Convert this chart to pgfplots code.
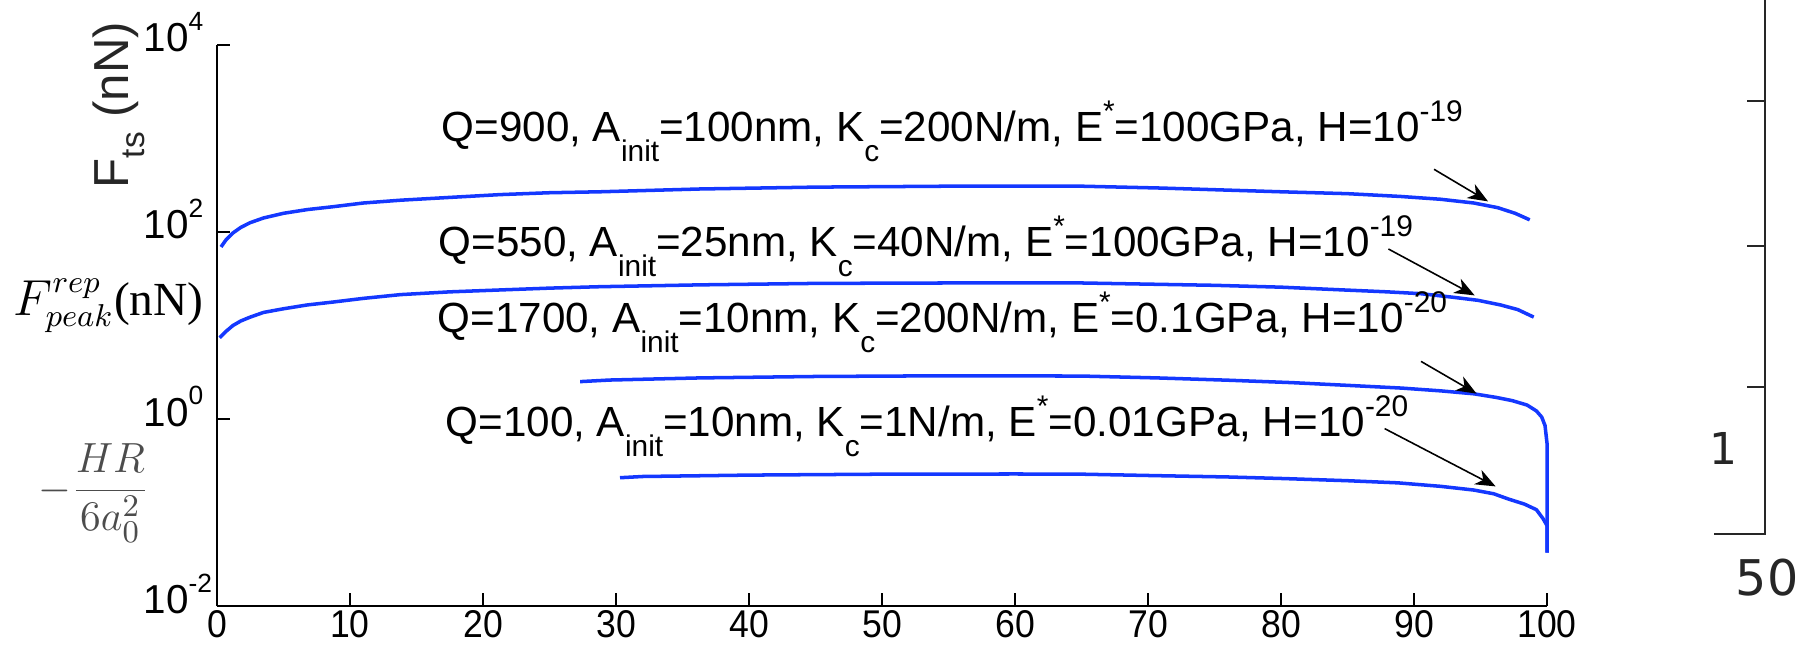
\documentclass[border=0pt]{standalone}
\usepackage{fontspec}
\setmainfont{Liberation Sans}
\newfontfamily\narrowfont[FakeStretch=0.92]{Liberation Sans}
\newfontfamily\seriffont{Liberation Serif}
\newfontfamily\dejavu{DejaVu Sans}
\usepackage{pgfplots}
\pgfplotsset{compat=1.18}
\usetikzlibrary{arrows.meta}
\definecolor{curveblue}{rgb}{0.08,0.22,1}
\newcommand{\ysup}[1]{\raisebox{2.1mm}{\fontsize{7.5}{8}\selectfont #1}}
\newcommand{\asub}[1]{\raisebox{-2mm}{\fontsize{8.5}{9}\selectfont #1}}
\newcommand{\asup}[1]{\raisebox{2mm}{\fontsize{8.5}{9}\selectfont #1}}
\newcommand{\ann}[5]{Q=#1, A\asub{init}=#2, K\asub{c}=#3, E\asup{*}=#4, H=10\asup{#5}}
\begin{document}
\begin{tikzpicture}
\useasboundingbox (-21.7mm,-3.8mm) rectangle (159.1mm,60.6mm);
\begin{axis}[
  at={(0,0)}, anchor=south west,
  scale only axis, width=133mm, height=56.1mm,
  xmin=0, xmax=100, ymode=log, ymin=1e-2, ymax=1e4,
  axis lines=left, axis line style={-, line width=0.5pt},
  tick align=inside, major tick length=1.3mm,
  tick style={black, line width=0.5pt},
  xtick={0,10,...,100},
  xticklabels={0,10,20,30,40,50,60,70,80,90,100},
  ytick={1e-2,1,1e2,1e4},
  yticklabels={10\ysup{-2},10\ysup{0},10\ysup{2},10\ysup{4}},
  xminorticks=false, yminorticks=false,
  xticklabel style={font=\narrowfont\fontsize{11}{12}\selectfont, inner sep=0pt, anchor=north, yshift=-0.4mm},
  yticklabel style={font=\fontsize{11.5}{12}\selectfont, inner sep=0pt, anchor=base west, xshift=-7.4mm, yshift=-0.7mm},
  clip=false,
  cycle list={{curveblue, line width=1pt}},
]
% Q=900
\addplot[curveblue, line width=1pt] coordinates {(0.3,69.2)(0.7,83.2)(1.2,97.7)(1.8,112.2)(2.5,125.9)(3.5,141.3)(5,158.5)(6.8,173.8)(8.7,186.2)(11,204.2)(13.8,218.8)(17.5,234.4)(21.3,251.2)(25,263.0)(28.8,269.2)(36.3,288.4)(45,302.0)(55,309.0)(65,309.0)(71,295.1)(80,269.2)(85,257.0)(89,239.9)(92,223.9)(94.5,204.2)(96.3,182.0)(97.6,158.5)(98.7,134.9)};
% Q=550
\addplot[curveblue, line width=1pt] coordinates {(0.2,7.41)(0.7,8.71)(1.2,10.0)(1.8,11.2)(2.5,12.3)(3.5,13.8)(5,15.1)(6.8,16.6)(8.7,17.8)(11,19.5)(13.8,21.4)(17.5,22.9)(21.3,24.0)(25,25.1)(28.8,26.0)(36.3,27.2)(45,28.2)(55,28.5)(65,28.5)(75,26.9)(80,25.7)(84.7,24.0)(88,22.9)(90.5,21.9)(93,20.0)(94.8,18.6)(96.5,16.6)(97.8,14.8)(99,12.3)};
% Q=1700
\addplot[curveblue, line width=1pt] coordinates {(27.3,2.51)(29.5,2.61)(36.3,2.75)(45,2.85)(55,2.90)(65,2.88)(70.7,2.75)(76,2.60)(80.8,2.45)(85,2.29)(89.1,2.14)(92,2.00)(94.5,1.86)(96.2,1.70)(97.4,1.57)(98.5,1.41)(99.2,1.22)(99.6,1.05)(99.85,0.851)(100,0.550)(100,0.0372)};
% Q=100
\addplot[curveblue, line width=1pt] coordinates {(30.3,0.2355)(32,0.2427)(40,0.2512)(50,0.2570)(60,0.2582)(65,0.2570)(70.7,0.2477)(76,0.2399)(80.2,0.2307)(85,0.2188)(88.8,0.2075)(92,0.1905)(94.5,0.1738)(96,0.1585)(97.1,0.1393)(98.3,0.1230)(99.2,0.1072)(99.7,0.0861)(100,0.0724)(100,0.0372)};
\end{axis}
% annotations
\begin{scope}[every node/.style={anchor=base west, inner sep=0pt, font=\fontsize{12}{14}\selectfont}]
\node at (22.4mm,46.4mm) {\ann{900}{100nm}{200N/m}{100GPa}{-19}};
\node at (22.1mm,34.9mm) {\ann{550}{25nm}{40N/m}{100GPa}{-19}};
\node at (22.0mm,27.3mm) {\ann{1700}{10nm}{200N/m}{0.1GPa}{-20}};
\node at (22.8mm,16.95mm) {\ann{100}{10nm}{1N/m}{0.01GPa}{-20}};
\end{scope}
\begin{scope}[line width=0.45pt, -{Stealth[length=2mm,width=1.6mm,inset=0.6mm]}]
\draw (121.7mm,43.67mm) -- (127.1mm,40.46mm);
\draw (117.14mm,35.7mm) -- (125.76mm,31.06mm);
\draw (120.4mm,24.46mm) -- (125.95mm,21.24mm);
\draw (116.76mm,17.74mm) -- (127.86mm,11.96mm);
\end{scope}
% y-axis descriptions
\node[rotate=90, anchor=base west, inner sep=0pt, text=black!85, font=\fontsize{14}{16}\selectfont] at (-8.9mm,41.7mm) {F\raisebox{-1.6mm}{\fontsize{9.5}{10}\selectfont ts}\hspace{0.3em}(nN)};
\node[anchor=base west, inner sep=0pt, font=\seriffont\fontsize{13.5}{15}\selectfont] at (-20.4mm,29.0mm) {$F^{rep}_{peak}$(nN)};
\node[anchor=center, inner sep=0pt, text=black!70, font=\fontsize{12.5}{14}\selectfont] at (-12.3mm,11.3mm) {$\displaystyle -\frac{HR}{6a_0^2}$};
% right fragment
\begin{scope}[black!85, line width=0.8pt]
\draw (154.8mm,60.6mm) -- (154.8mm,7.2mm) -- (149.7mm,7.2mm);
\draw (153.0mm,50.5mm) -- (154.8mm,50.5mm);
\draw (153.0mm,36.0mm) -- (154.8mm,36.0mm);
\draw (153.0mm,21.9mm) -- (154.8mm,21.9mm);
\end{scope}
\node[font=\dejavu\fontsize{12.5}{13}\selectfont, text=black!85] at (150.6mm,15.8mm) {1};
\node[font=\dejavu\fontsize{14}{15}\selectfont, text=black!85] at (155.0mm,2.8mm) {50};
\begin{scope}
\clip (149.6mm,45mm) rectangle (152mm,58mm);
\node[font=\dejavu\fontsize{12}{13}\selectfont, text=black!85] at (149.1mm,52.4mm) {)};
\end{scope}
\end{tikzpicture}
\end{document}
